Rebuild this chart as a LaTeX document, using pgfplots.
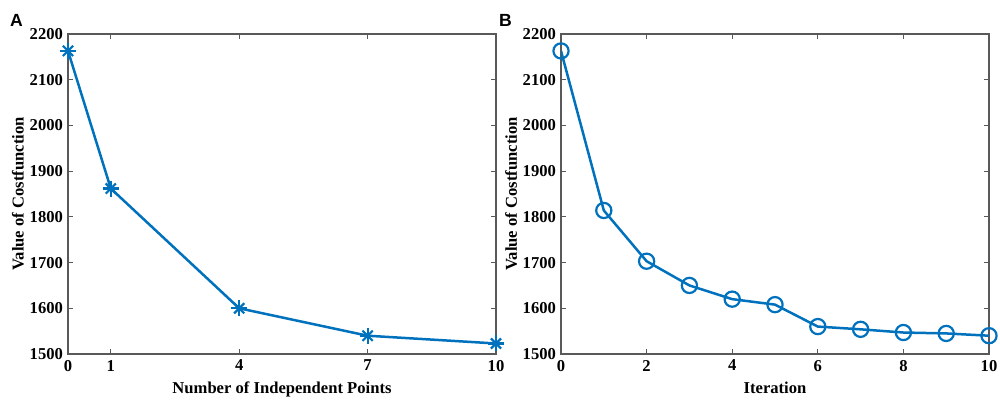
\documentclass[border=0pt]{standalone}
\usepackage{fontspec}
\setmainfont{Liberation Serif}
\newfontfamily\panelfont{Liberation Sans}
\usepackage{pgfplots}
\pgfplotsset{compat=1.18}

\definecolor{mblue}{rgb}{0.0,0.447,0.741}
\definecolor{axgray}{gray}{0.35}

\pgfplotsset{
  costaxis/.style={
    scale only axis,
    width=214pt, height=160pt,
    ymin=1500, ymax=2200,
    ytick={1500,1600,...,2200},
    xmin=0, xmax=10,
    axis line style={axgray, line width=0.7pt},
    tick style={axgray, line width=0.6pt},
    major tick length=2.5pt,
    tick align=inside,
    /pgf/number format/assume math mode=true,
    /pgf/number format/1000 sep={},
    ticklabel style={font=\fontsize{8.3}{10}\selectfont\bfseries, text=black},
    label style={font=\fontsize{8.3}{10}\selectfont\bfseries},
    xticklabel style={yshift=0.5pt},
    yticklabel style={xshift=1pt},
    ylabel={Value of Costfunction},
    ylabel style={yshift=-4pt},
    xlabel style={yshift=1.5pt},
  },
}

\begin{document}
\begin{tikzpicture}
\useasboundingbox (0,0) rectangle (500pt,-200.5pt);

\node[font=\panelfont\fontsize{8.8}{10}\selectfont\bfseries, anchor=north west] at (1.5pt,-3.5pt) {A};
\node[font=\panelfont\fontsize{8.8}{10}\selectfont\bfseries, anchor=north west] at (246pt,-3.5pt) {B};

\begin{axis}[costaxis,
    at={(34pt,-177pt)}, anchor=south west,
    xtick={0,1,4,7,10},
    xlabel={Number of Independent Points},
  ]
  \addplot[mblue, line width=1.25pt, mark=+, mark size=4pt,
    mark options={line width=1.1pt}]
  coordinates {
    (0,2163) (1,1862) (4,1600) (7,1540) (10,1523)
  };
  \addplot[mblue, only marks, mark=x, mark size=3.6pt,
    mark options={line width=1.1pt}]
  coordinates {
    (0,2163) (1,1862) (4,1600) (7,1540) (10,1523)
  };
\end{axis}

\begin{axis}[costaxis,
    at={(280.5pt,-177pt)}, anchor=south west,
    xtick={0,2,...,10},
    xlabel={Iteration},
  ]
  \addplot[mblue, line width=1.25pt, mark=o, mark size=3.8pt,
    mark options={line width=1.1pt}]
  coordinates {
    (0,2163) (1,1814) (2,1703) (3,1650) (4,1620) (5,1608)
    (6,1560) (7,1554) (8,1547) (9,1545) (10,1540)
  };
\end{axis}
\end{tikzpicture}
\end{document}
